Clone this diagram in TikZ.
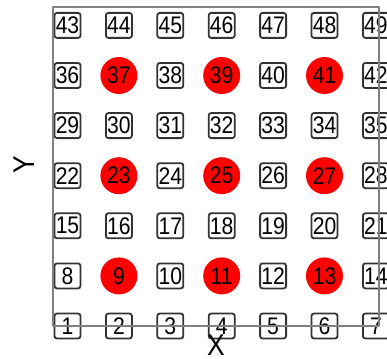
\documentclass[tikz,border=0pt]{standalone}
\usepackage{fontspec}
\setmainfont{Liberation Sans}
\newfontfamily\narrowsans[FakeStretch=0.88]{Liberation Sans}
\begin{document}
\begin{tikzpicture}[x=1pt,y=-1pt,
  cellbox/.style={draw=black!80, line width=1.8pt, rounded corners=2.5pt, fill=white,
    minimum width=26pt, minimum height=25pt, inner sep=0pt,
    font=\narrowsans\fontsize{24}{24}\selectfont},
  hotspot/.style={circle, fill=red, minimum size=37pt, inner sep=0pt,
    font=\narrowsans\fontsize{24}{24}\selectfont},
  axisframe/.style={draw=black!50, line width=2.5pt, line join=round},
  axislabel/.style={inner sep=0pt, font=\narrowsans\fontsize{30}{30}\selectfont}]
\useasboundingbox (0,0) rectangle (387,358);
\foreach \n in {1,...,49}{
  \pgfmathtruncatemacro\cc{mod(\n-1,7)}
  \pgfmathtruncatemacro\rr{div(\n-1,7)}
  \node[cellbox] (n\n) at ({67.5+51.4*\cc},{326-50.1*\rr}) {\n};
}
\foreach \n in {9,11,13,23,25,27,37,39,41}{
  \node[hotspot] (h\n) at (n\n) {\n};
}
\coordinate (fa) at (53,326);
\coordinate (fb) at (53,7);
\coordinate (fc) at (379,7);
\coordinate (fd) at (379,326);
\draw[axisframe] (fa) -- (fb) -- (fc) -- (fd) -- cycle;
\node[axislabel] (xl) at (216,345.5) {X};
\node[axislabel, rotate=90] (yl) at (24.5,165) {Y};
\end{tikzpicture}
\end{document}
